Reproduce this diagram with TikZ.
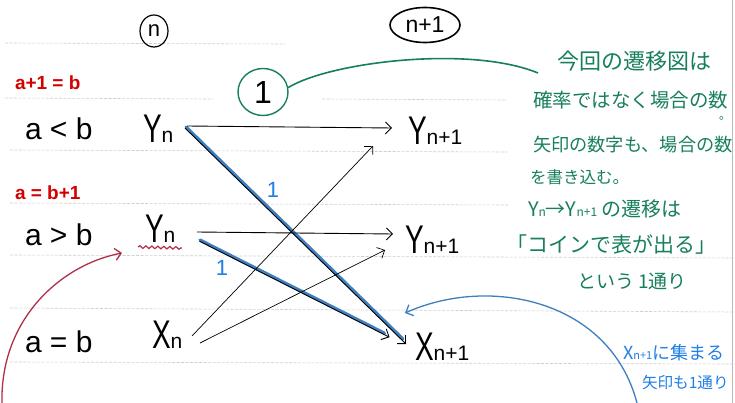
\documentclass[tikz,border=0pt]{standalone}
\usepackage{graphicx}
\usepackage{fontspec}
\setmainfont{Liberation Sans}
\newfontfamily\jp{Noto Sans CJK JP}
\usetikzlibrary{arrows.meta,decorations.pathmorphing,shapes.geometric,calc}
\definecolor{ngreen}{HTML}{17805A}
\definecolor{nblue}{HTML}{1E7FE6}
\definecolor{hl}{HTML}{3F7FC0}
\definecolor{nred}{HTML}{D40000}
\definecolor{nmaroon}{HTML}{B0304A}
\definecolor{rulec}{HTML}{CFCFCF}
\definecolor{edgec}{HTML}{B8B8B8}
\newcommand{\bigY}{\scalebox{0.7}[1]{\fontsize{40}{40}\selectfont Y}}
\newcommand{\bigX}{\scalebox{0.7}[1]{\fontsize{40}{40}\selectfont X}}
\newcommand{\subn}[1]{{\fontsize{21}{21}\selectfont #1}}
\tikzset{
  lbl/.style={anchor=base west, inner sep=0pt, outer sep=0pt},
  rulel/.style={draw=rulec, line width=0.6pt, dash pattern=on 3pt off 1.5pt},
  barb/.style={-{Straight Barb[length=6pt,width=12pt]}},
  arr/.style={barb, black, line width=0.9pt},
  thinarr/.style={barb, black, line width=0.7pt},
  hlline/.style={hl, line width=3.2pt, line cap=round},
  gtext/.style={lbl, text=ngreen, font=\jp},
  btext/.style={lbl, text=nblue, font=\jp},
}
\begin{document}
\begin{tikzpicture}[x=1pt,y=-1pt]
\useasboundingbox (0,0) rectangle (735,403);
\fill[white] (0,0) rectangle (735,403);
\draw[edgec, line width=0.8pt] (732,0) -- (732,403);
% ruled lines
\draw[rulel] (5,43) -- (285,44);
\draw[rulel] (5,98) -- (213,99);
\draw[rulel] (322,99) -- (507,100);
\draw[rulel] (10,150) -- (507,152);
\draw[rulel] (10,203) -- (508,205);
\draw[rulel] (10,255) -- (735,258);
\draw[rulel] (10,308) -- (735,312);
\draw[rulel] (10,362) -- (735,364);

% headers
\node[ellipse, draw=black, line width=1.2pt, minimum width=28pt, minimum height=32pt, inner sep=0pt] (hn) at (154,31) {\fontsize{22}{22}\selectfont n};
\node[ellipse, draw=black, line width=1.6pt, minimum width=70pt, minimum height=35pt, inner sep=0pt] (hn1) at (425,25) {\fontsize{23}{23}\selectfont n+1};

% red conditions
\node[lbl, text=nred, font=\bfseries\fontsize{19}{19}\selectfont] (c1) at (15,90) {a+1 = b};
\node[lbl, text=nred, font=\bfseries\fontsize{19}{19}\selectfont] (c2) at (15,200) {a = b+1};

% state conditions
\node[lbl, font=\fontsize{30}{30}\selectfont] (s1) at (25,140) {a < b};
\node[lbl, font=\fontsize{30}{30}\selectfont] (s2) at (25,245) {a > b};
\node[lbl, font=\fontsize{30}{30}\selectfont] (s3) at (25,352) {a = b};

% states at n
\node[lbl] (yn1) at (143,143) {\bigY\subn{n}};
\node[lbl] (yn2) at (145,242) {\bigY\subn{n}};
\node[lbl] (xn) at (152,348) {\bigX\subn{n}};

% states at n+1
\node[lbl] (ym1) at (408,145) {\bigY\subn{n+1}};
\node[lbl] (ym2) at (405,253) {\bigY\subn{n+1}};
\node[lbl] (xm) at (415,360) {\bigX\subn{n+1}};

% connector end points
\coordinate (aS) at (187,126);
\coordinate (aT) at (392,128);
\coordinate (bS) at (186,127);
\coordinate (bT) at (407,343);
\coordinate (cS) at (197,232);
\coordinate (cT) at (393,234);
\coordinate (dS) at (200,240);
\coordinate (dT) at (390,336);
\coordinate (eS) at (192,336);
\coordinate (eT) at (373,146);
\coordinate (fS) at (200,343);
\coordinate (fT) at (385,250);

% highlighted (blue) transitions
\draw[hlline] (bS) -- ($(bT)!6pt!(bS)$);
\draw[hlline] (dS) -- ($(dT)!6pt!(dS)$);

% black transitions
\draw[arr] (aS) -- (aT);
\draw[arr, transform canvas={xshift=-1pt,yshift=-1pt}] (bS) -- (bT);
\draw[arr] (cS) -- (cT);
\draw[arr, transform canvas={xshift=-0.5pt,yshift=-1.2pt}] (dS) -- (dT);
\draw[thinarr] (eS) -- (eT);
\draw[thinarr] (fS) -- (fT);

% blue labels
\node[text=nblue, font=\fontsize{22}{22}\selectfont, inner sep=0pt] (l1) at (273,190) {1};
\node[text=nblue, font=\fontsize{22}{22}\selectfont, inner sep=0pt] (l2) at (222,268) {1};

% red wavy underline and arrow
\draw[nmaroon, line width=1.2pt, decorate, decoration={snake, amplitude=1.3pt, segment length=6pt}] (138,247) -- (182,248);
\coordinate (rS) at (2,403);
\coordinate (rT) at (122,253);
\draw[nmaroon, line width=1.3pt, -{Straight Barb[length=6pt,width=12pt]}] (rS) .. controls (0,320) and (60,265) .. (rT);

% green circle and curve
\node[ellipse, draw=ngreen, line width=1.4pt, minimum width=50pt, minimum height=47pt, inner sep=0pt] (one) at (263,92) {\fontsize{32}{32}\selectfont 1};
\coordinate (gE) at (538,73);
\draw[ngreen, line width=1.6pt] (one.10) .. controls (330,62) and (470,45) .. (gE);

% green notes
\node[gtext, font=\jp\fontsize{22}{22}\selectfont] (g1) at (557,70) {今回の遷移図は};
\node[gtext, font=\jp\fontsize{19.5}{19.5}\selectfont] (g2) at (533,108) {確率ではなく場合の数};
\node[gtext, font=\jp\fontsize{12}{12}\selectfont] (g2b) at (719,120) {。};
\node[gtext, font=\jp\fontsize{18.2}{18.2}\selectfont] (g3) at (533,152) {矢印の数字も、場合の数};
\node[gtext, font=\jp\fontsize{16.5}{16.5}\selectfont] (g4) at (530,184) {を書き込む。};
\node[gtext, font=\jp\fontsize{20}{20}\selectfont] (g5) at (528,217) {Y{\fontsize{12}{12}\selectfont n}→Y{\fontsize{12}{12}\selectfont n+1} の遷移は};
\node[gtext, font=\jp\fontsize{21}{21}\selectfont] (g6) at (506,252) {「コインで表が出る」};
\node[gtext, font=\jp\fontsize{19}{19}\selectfont] (g7) at (577,288) {という 1通り};

% blue notes and arrow
\node[btext, font=\jp\fontsize{18}{18}\selectfont] (b1) at (623,359) {X{\fontsize{11}{11}\selectfont n+1}に集まる};
\node[btext, font=\jp\fontsize{15.6}{15.6}\selectfont] (b2) at (642,388) {矢印も1通り};
\coordinate (qS) at (637,403);
\coordinate (qT) at (405,313);
\draw[hl, line width=1.3pt, -{Straight Barb[length=6pt,width=12pt]}] (qS) .. controls (610,300) and (490,275) .. (qT);
\end{tikzpicture}
\end{document}
